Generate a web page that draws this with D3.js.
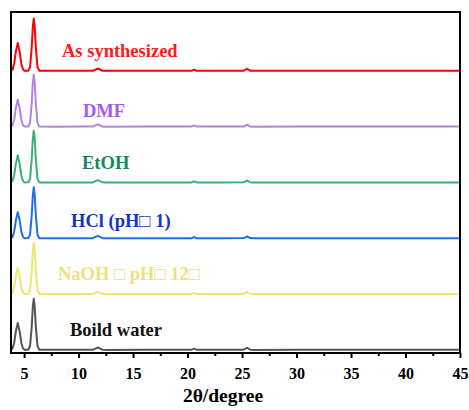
<!DOCTYPE html>
<html>
<head>
<meta charset="utf-8">
<script src="https://cdn.jsdelivr.net/npm/d3@7/dist/d3.min.js"></script>
<style>
html,body{margin:0;padding:0;background:#fff;}
svg{display:block;}
</style>
</head>
<body>
<svg id="chart" width="469" height="410"></svg>
<script>
// ---- data ----
const twoTheta = [3.8,3.95,4.1,4.25,4.42,4.6,4.75,4.9,5.05,5.4,5.55,5.7,5.8,5.89,5.98,6.08,6.23,6.4,8.0,10.0,11.3,11.55,11.76,11.97,12.2,12.5,16.0,20.35,20.6,20.85,23.0,25.15,25.46,25.75,26.0,30.0,35.0,40.0,45.0];

const seriesNames = ["As synthesized","DMF","EtOH","HCl (pH\u25A1 1)","NaOH \u25A1 pH\u25A1 12\u25A1","Boild water"];
const offsets = [5000,4000,3000,2000,1000,0];

const asSynthesized = [4,32,140,350,500,335,130,28,4, 5,72,423,785,940,785,423,72,3, 3,4, 3,26,45,26,4,2, 3, 3,25,3, 4, 5,40,6,2, 3,4,3,3];
const dmf           = [4,31,136,340,485,325,126,27,3, 5,72,421,781,935,781,421,72,3, 2,3, 3,25,44,25,4,2, 3, 3,24,3, 3, 5,38,6,2, 3,3,3,3];
const etoh          = [4,31,137,343,490,328,127,27,3, 5,72,419,777,930,777,419,72,3, 3,3, 3,26,45,26,4,2, 3, 3,22,3, 3, 5,38,6,2, 3,3,3,3];
const hcl           = [4,30,132,329,470,315,122,26,3, 5,70,412,764,915,764,412,70,3, 3,3, 3,26,45,26,4,2, 3, 3,22,3, 3, 5,38,6,2, 3,3,3,3];
const naoh          = [4,30,132,329,470,315,122,26,3, 5,70,412,764,915,764,412,70,3, 3,3, 3,25,44,25,4,2, 3, 3,24,3, 3, 5,40,6,2, 3,3,3,3];
const boilWater     = [4,31,136,340,485,325,126,27,3, 5,71,414,768,920,768,414,71,3, 3,3, 3,26,45,26,4,2, 3, 3,24,3, 3, 5,40,6,2, 3,3,3,3];
const intensities = [asSynthesized, dmf, etoh, hcl, naoh, boilWater];

const lineColors  = ["#ff0000","#b383e3","#3bb273","#1f6ee6","#efe56f","#555555"];
const labelColors = ["#ff1a1a","#a259f0","#138a5e","#1434c8","#eee27a","#111111"];

const xTicks = [5,10,15,20,25,30,35,40,45];
const xMinorTicks = [7.5,12.5,17.5,22.5,27.5,32.5,37.5,42.5];
const xTitle = "2\u03B8/degree";

// ---- layout ----
const mLeft = 11, mRight = 460, mTop = 12, mBottom = 353;
const svg = d3.select("#chart");
const x = d3.scaleLinear().domain([3.8,45]).range([mLeft,mRight]);
const y = d3.scaleLinear().domain([-54,6057]).range([mBottom,mTop]);

const line = d3.line().x(d=>x(d[0])).y(d=>y(d[1]));

intensities.forEach((vals,i)=>{
  const pts = twoTheta.map((t,j)=>[t, vals[j] + offsets[i]]);
  svg.append("path").attr("d", line(pts))
    .attr("fill","none").attr("stroke", lineColors[i])
    .attr("stroke-width",2).attr("stroke-linejoin","round");
});

// labels
const labelPos = [[62,14],[83,10],[82,14],[71,11],[58,14],[70,14]];
seriesNames.forEach((name,i)=>{
  svg.append("text").text(name)
    .attr("x", labelPos[i][0])
    .attr("y", y(offsets[i]) - labelPos[i][1])
    .attr("fill", labelColors[i])
    .attr("font-family","'Liberation Serif','Times New Roman',serif")
    .attr("font-weight","bold").attr("font-size",18.5);
});

// frame
svg.append("rect").attr("x",mLeft).attr("y",mTop)
  .attr("width",mRight-mLeft).attr("height",mBottom-mTop)
  .attr("fill","none").attr("stroke","#000").attr("stroke-width",2);

// x axis
const axis = svg.append("g").attr("transform",`translate(0,${mBottom})`)
  .call(d3.axisBottom(x).tickValues(xTicks).tickSize(5).tickPadding(10).tickFormat(d3.format("d")));
axis.select(".domain").remove();
axis.selectAll("line").attr("stroke","#000").attr("stroke-width",2);
axis.selectAll("text").attr("font-family","'Liberation Serif','Times New Roman',serif")
  .attr("font-weight","bold").attr("font-size",16).attr("fill","#000");
const minor = svg.append("g").attr("transform",`translate(0,${mBottom})`)
  .call(d3.axisBottom(x).tickValues(xMinorTicks).tickSize(3).tickFormat(""));
minor.select(".domain").remove();
minor.selectAll("line").attr("stroke","#000").attr("stroke-width",2);

svg.append("text").text(xTitle)
  .attr("x",223).attr("y",402).attr("text-anchor","middle")
  .attr("font-family","'Liberation Serif','Times New Roman',serif")
  .attr("font-weight","bold").attr("font-size",19.5).attr("fill","#000");
</script>
</body>
</html>
